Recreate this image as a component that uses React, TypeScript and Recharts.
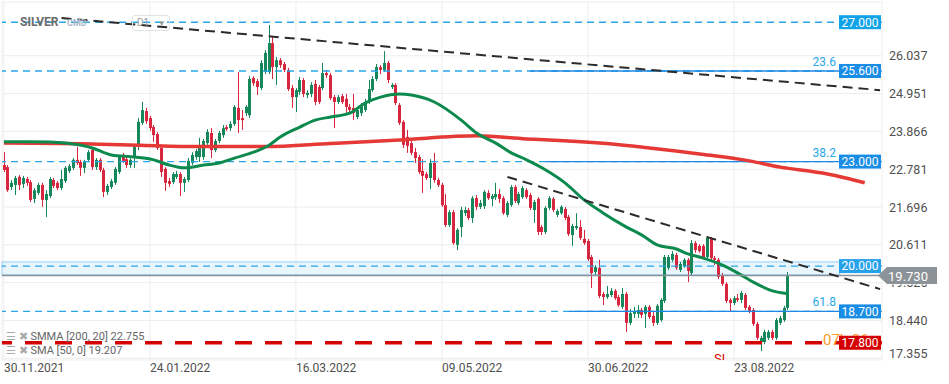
import React from 'react';
import {
  ComposedChart,
  Bar,
  Line,
  XAxis,
  YAxis,
  CartesianGrid,
  ReferenceLine,
  ReferenceArea,
} from 'recharts';

// daily candles, 30.11.2021 .. 12.09.2022
const OPEN = [
  22.90, 22.84, 22.27, 22.33, 22.56, 22.36, 22.50, 22.41, 21.93, 22.10,
  22.33, 21.90, 22.01, 22.47, 22.39, 22.24, 22.44, 22.73, 22.82, 23.05,
  22.99, 22.82, 23.05, 23.33, 22.84, 23.05, 22.76, 22.13, 22.27, 22.39,
  22.70, 23.13, 23.07, 22.90, 23.10, 23.42, 24.11, 24.45, 24.25, 23.99,
  23.79, 23.39, 22.79, 22.44, 22.41, 22.56, 22.64, 22.39, 22.47, 22.96,
  23.13, 23.13, 23.13, 23.53, 23.82, 23.33, 23.59, 23.76, 23.99, 23.96,
  24.08, 24.54, 24.25, 24.39, 24.33, 25.40, 25.31, 25.11, 25.57, 25.57,
  26.40, 25.71, 25.91, 25.80, 25.63, 25.11, 24.85, 25.00, 25.34, 24.91,
  24.94, 25.23, 25.14, 25.11, 25.54, 25.48, 24.85, 24.71, 24.88, 24.80,
  24.57, 24.54, 24.28, 24.39, 24.48, 24.71, 25.05, 25.37, 25.71, 25.63,
  25.83, 25.14, 25.20, 24.62, 24.14, 23.71, 23.53, 23.27, 23.13, 22.73,
  22.64, 22.53, 22.96, 22.47, 22.33, 21.75, 21.18, 21.55, 20.61, 21.12,
  21.52, 21.61, 21.38, 21.95, 21.70, 21.72, 22.10, 21.93, 21.98, 22.07,
  21.95, 21.47, 21.75, 22.27, 21.81, 21.98, 22.18, 22.04, 21.61, 21.93,
  21.12, 20.98, 21.67, 21.93, 21.47, 21.52, 21.64, 21.41, 20.89, 21.09,
  21.12, 20.78, 20.72, 20.26, 19.83, 19.95, 19.20, 19.11, 19.17, 19.29,
  19.11, 18.83, 19.20, 18.37, 18.63, 18.63, 18.74, 18.63, 18.83, 18.57,
  18.37, 18.45, 19.00, 19.95, 20.18, 20.32, 19.89, 20.00, 20.18, 19.80,
  20.66, 20.58, 20.58, 20.26, 20.78, 20.23, 20.18, 19.74, 19.49, 19.03,
  18.94, 19.08, 19.03, 19.17, 18.83, 18.74, 18.34, 17.82, 17.82, 17.94,
  18.11, 17.94, 18.37, 18.45, 18.80,
];
const HIGH = [
  23.27, 22.90, 22.47, 22.59, 22.61, 22.59, 22.56, 22.47, 22.24, 22.39,
  22.39, 22.18, 22.56, 22.53, 22.44, 22.76, 22.87, 22.93, 23.10, 23.42,
  23.05, 23.05, 23.33, 23.39, 23.10, 23.10, 22.82, 22.36, 22.50, 22.84,
  23.19, 23.25, 23.13, 23.10, 23.48, 24.25, 24.71, 24.54, 24.31, 24.05,
  23.85, 23.45, 22.84, 22.53, 22.70, 22.73, 22.70, 22.56, 23.10, 23.27,
  23.36, 23.68, 23.65, 23.93, 23.96, 23.65, 23.88, 24.05, 24.05, 24.16,
  24.62, 25.57, 24.48, 24.62, 25.45, 25.45, 25.37, 25.91, 26.20, 26.92,
  26.58, 26.00, 25.97, 25.86, 25.69, 25.20, 25.11, 25.43, 25.40, 25.05,
  25.28, 25.34, 25.20, 25.83, 25.63, 25.54, 24.91, 24.91, 24.94, 24.94,
  24.65, 24.94, 24.54, 24.68, 24.80, 25.34, 25.45, 25.80, 25.77, 26.17,
  25.89, 25.25, 25.25, 24.68, 24.19, 23.91, 23.59, 23.39, 23.19, 23.07,
  22.70, 23.07, 23.25, 22.53, 22.39, 22.07, 21.61, 21.61, 21.09, 21.70,
  21.70, 21.67, 22.01, 22.04, 21.90, 22.18, 22.18, 22.07, 22.39, 22.21,
  22.01, 21.87, 22.33, 22.33, 22.13, 22.30, 22.24, 22.10, 21.90, 21.98,
  21.18, 21.72, 22.01, 21.98, 21.64, 21.75, 21.70, 21.47, 21.21, 21.52,
  21.32, 21.04, 20.78, 20.32, 20.03, 20.18, 19.26, 19.43, 19.37, 19.34,
  19.17, 19.37, 19.26, 18.77, 18.83, 18.88, 18.80, 18.88, 18.88, 18.68,
  18.91, 19.08, 20.32, 20.32, 20.43, 20.38, 20.12, 20.23, 20.23, 20.75,
  20.72, 20.63, 20.63, 20.86, 20.84, 20.29, 20.23, 19.80, 19.54, 19.08,
  19.14, 19.20, 19.29, 19.23, 18.88, 18.80, 18.40, 18.00, 18.17, 18.17,
  18.17, 18.51, 18.57, 18.86, 19.83,
];
const LOW = [
  22.70, 22.13, 22.18, 22.04, 22.18, 22.24, 22.30, 21.84, 21.81, 22.04,
  21.70, 21.41, 21.95, 22.24, 22.18, 22.18, 22.39, 22.67, 22.76, 22.90,
  22.59, 22.67, 22.99, 22.76, 22.76, 22.70, 21.98, 22.04, 22.21, 22.33,
  22.64, 22.96, 22.82, 22.82, 22.82, 23.33, 24.05, 24.08, 23.88, 23.56,
  23.33, 22.56, 22.16, 22.27, 22.36, 22.50, 22.01, 22.13, 22.41, 22.90,
  23.05, 22.99, 23.05, 23.48, 23.10, 23.27, 23.53, 23.68, 23.88, 23.88,
  24.02, 23.82, 23.91, 24.31, 24.25, 25.17, 24.91, 25.05, 25.51, 25.51,
  25.37, 25.20, 25.69, 25.57, 25.02, 24.54, 24.42, 24.91, 24.85, 24.82,
  24.85, 24.62, 24.65, 25.05, 25.40, 24.77, 23.96, 24.65, 24.65, 24.39,
  24.42, 24.19, 24.22, 24.31, 24.42, 24.65, 25.00, 25.31, 25.51, 25.57,
  25.25, 25.08, 24.62, 24.05, 23.39, 23.25, 23.19, 22.96, 22.64, 22.10,
  22.47, 22.21, 22.39, 22.27, 21.70, 21.12, 21.12, 20.61, 20.46, 20.83,
  21.44, 21.32, 21.24, 21.61, 21.64, 21.64, 21.90, 21.72, 21.90, 21.81,
  21.47, 21.41, 21.70, 21.81, 21.75, 21.93, 21.93, 21.61, 21.24, 20.89,
  20.89, 20.92, 21.61, 21.55, 21.41, 21.47, 21.32, 20.86, 20.58, 21.04,
  20.75, 20.61, 20.15, 19.37, 19.74, 19.08, 18.88, 19.06, 19.11, 19.03,
  18.83, 18.77, 18.11, 18.31, 18.51, 18.51, 18.51, 18.22, 18.48, 18.28,
  18.31, 18.40, 18.94, 19.89, 20.12, 19.89, 19.83, 19.95, 19.54, 19.74,
  20.38, 20.38, 20.20, 20.20, 20.12, 20.03, 19.63, 19.43, 18.94, 18.68,
  18.88, 18.97, 18.94, 18.74, 18.65, 18.28, 17.88, 17.56, 17.76, 17.88,
  17.88, 17.88, 18.31, 18.40, 18.74,
];
const CLOSE = [
  22.76, 22.18, 22.39, 22.53, 22.33, 22.53, 22.39, 21.90, 22.18, 22.33,
  21.90, 22.07, 22.50, 22.30, 22.24, 22.50, 22.82, 22.87, 23.05, 22.96,
  22.82, 22.99, 23.27, 22.84, 23.05, 22.76, 22.13, 22.30, 22.44, 22.79,
  23.13, 23.02, 22.90, 23.05, 23.42, 24.14, 24.48, 24.16, 23.96, 23.76,
  23.39, 22.70, 22.39, 22.36, 22.64, 22.64, 22.39, 22.50, 23.02, 23.19,
  23.30, 23.39, 23.59, 23.85, 23.33, 23.59, 23.82, 23.96, 23.93, 24.08,
  24.57, 24.19, 24.19, 24.57, 25.37, 25.25, 25.14, 25.83, 26.12, 26.40,
  25.71, 25.91, 25.77, 25.63, 25.08, 24.85, 25.05, 25.34, 24.94, 24.97,
  25.20, 24.71, 24.71, 25.54, 25.48, 24.82, 24.71, 24.85, 24.71, 24.57,
  24.48, 24.39, 24.48, 24.59, 24.71, 25.08, 25.37, 25.71, 25.63, 25.83,
  25.34, 25.20, 24.68, 24.11, 23.48, 23.45, 23.25, 23.10, 22.70, 22.59,
  22.53, 22.96, 22.47, 22.33, 21.75, 21.18, 21.55, 20.66, 21.04, 21.61,
  21.61, 21.38, 21.95, 21.70, 21.81, 22.13, 21.95, 22.01, 22.07, 21.93,
  21.52, 21.81, 22.27, 21.87, 22.07, 22.24, 21.98, 21.67, 21.84, 20.98,
  20.98, 21.67, 21.95, 21.61, 21.58, 21.70, 21.38, 20.92, 21.15, 21.15,
  20.81, 20.66, 20.20, 19.80, 19.97, 19.14, 19.11, 19.20, 19.29, 19.08,
  18.88, 19.20, 18.37, 18.65, 18.71, 18.74, 18.60, 18.83, 18.54, 18.37,
  18.86, 19.03, 20.26, 20.26, 20.35, 19.95, 20.06, 20.18, 19.86, 20.66,
  20.46, 20.43, 20.26, 20.81, 20.23, 20.18, 19.69, 19.49, 19.00, 18.94,
  19.08, 19.03, 19.23, 18.80, 18.71, 18.34, 17.94, 17.94, 18.11, 18.11,
  17.94, 18.45, 18.51, 18.80, 19.73,
];

// SMA(50) and SMMA(200, shift 20) read at a few bars
const SMA_IDX = [0, 6, 12, 16, 23, 28, 34, 39, 43, 47, 52, 56, 60, 65, 69, 72, 77, 81, 85, 90, 94, 98, 103, 106, 112, 119, 123, 128, 132, 136, 141, 146, 151, 156, 162, 166, 170, 175, 178, 182, 187, 191, 195, 200, 204];
const SMA_VAL = [23.57, 23.57, 23.56, 23.53, 23.39, 23.19, 23.13, 23.05, 22.90, 22.82, 22.90, 22.96, 23.10, 23.27, 23.47, 23.71, 23.99, 24.19, 24.28, 24.39, 24.68, 24.85, 24.94, 24.91, 24.71, 24.19, 23.82, 23.53, 23.25, 23.05, 22.76, 22.39, 21.90, 21.52, 21.12, 20.89, 20.61, 20.49, 20.35, 20.23, 20.03, 19.80, 19.54, 19.29, 19.21];
const SMMA_IDX = [0, 25, 35, 51, 68, 85, 103, 123, 136, 142, 155, 168, 181, 194, 202, 213, 219, 224];
const SMMA_VAL = [23.53, 23.50, 23.47, 23.43, 23.43, 23.52, 23.62, 23.74, 23.65, 23.62, 23.53, 23.39, 23.22, 23.02, 22.84, 22.67, 22.53, 22.39];

const DATE_TICKS = [0, 38, 76, 114, 152, 190];
const DATE_LABELS = ['30.11.2021', '24.01.2022', '16.03.2022', '09.05.2022', '30.06.2022', '23.08.2022'];
const PRICE_TICKS = [17.355, 18.44, 19.526, 20.611, 21.696, 22.781, 23.866, 24.951, 26.037];

const LEVELS = [27, 25.6, 23, 20, 18.7];
const FIB_LEVELS = [25.6, 23, 18.7];
const FIB_NAMES = ['23.6', '38.2', '61.8'];
const FIB_START = [137, 141, 147];
const STOP = 17.8;
const ZONE = [19.75, 20.12];
const LAST = 19.73;
const TREND_A = [[15, 27.12], [228, 25.05]];
const TREND_B = [[131, 22.56], [228, 19.34]];

const SLOTS = 229;
const UP = '#15875a';
const DOWN = '#d7263d';
const LEVEL_BLUE = '#29a6e6';
const FONT = 'Roboto, sans-serif';

const data = Array.from({ length: SLOTS }, (_, i) => {
  const row: any = { i, sma: null, smma: null, range: null };
  if (i < CLOSE.length) {
    row.o = OPEN[i];
    row.h = HIGH[i];
    row.l = LOW[i];
    row.c = CLOSE[i];
    row.range = [LOW[i], HIGH[i]];
  }
  return row;
});
SMA_IDX.forEach((idx, k) => {
  data[idx].sma = SMA_VAL[k];
});
SMMA_IDX.forEach((idx, k) => {
  data[idx].smma = SMMA_VAL[k];
});

function Candle(props: any) {
  const { x, y, width, height, payload } = props;
  if (!payload || payload.o == null) return null;
  const top = Math.min(y, y + height);
  const bot = Math.max(y, y + height);
  const span = payload.h - payload.l || 1;
  const py = (v: number) => top + ((payload.h - v) / span) * (bot - top);
  const color = payload.c >= payload.o ? UP : DOWN;
  const cx = Math.round(x + width / 2) + 0.5;
  const b1 = py(Math.max(payload.o, payload.c));
  const b2 = py(Math.min(payload.o, payload.c));
  return (
    <g>
      <line x1={cx} x2={cx} y1={top} y2={bot} stroke={color} strokeWidth={1} />
      <rect x={cx - 1.5} y={b1} width={3} height={Math.max(1, b2 - b1)} fill={color} />
    </g>
  );
}

function DateTick(props: any) {
  const { x, payload } = props;
  const k = DATE_TICKS.indexOf(payload.value);
  return (
    <text x={x} y={372} textAnchor="start" fontSize={12} fill="#4f4f4f" fontFamily={FONT}>
      {DATE_LABELS[k]}
    </text>
  );
}

function PriceTick(props: any) {
  const { y, payload } = props;
  const shift = payload.value < 17.4 ? -5 : 0;
  const label = (
    <text x={889} y={y + 4.5 + shift} textAnchor="start" fontSize={12.5} fill="#4f4f4f" fontFamily={FONT}>
      {payload.value.toFixed(3)}
    </text>
  );
  // the tick under the last-price tag only peeks out below it
  if (Math.abs(payload.value - LAST) < 0.5) {
    return (
      <g>
        <defs>
          <clipPath id="underTag">
            <rect x={880} y={y + 2} width={69} height={10} />
          </clipPath>
        </defs>
        <g clipPath="url(#underTag)">{label}</g>
      </g>
    );
  }
  return label;
}

const levelTag = (value: number, fill: string, fib?: string, timer?: boolean) => (props: any) => {
  const vb = props.viewBox;
  const right = vb.x + vb.width;
  const y = vb.y;
  return (
    <g>
      {fib && (
        <text x={right - 46} y={y - 5} textAnchor="end" fontSize={12} fill={LEVEL_BLUE} fontFamily={FONT}>
          {fib}
        </text>
      )}
      {timer && (
        <text x={right - 59} y={y + 2} textAnchor="start" fontSize={15} fill="#ff9a1f" fontFamily={FONT}>
          07h 06m
        </text>
      )}
      <rect x={right - 43} y={y - 7} width={42} height={14} fill={fill} />
      <text x={right - 22} y={y + 4.3} textAnchor="middle" fontSize={12} fill="#fff" fontFamily={FONT}>
        {value.toFixed(3)}
      </text>
    </g>
  );
};

const lastTag = (props: any) => {
  const vb = props.viewBox;
  const x0 = vb.x + vb.width - 4;
  const y = vb.y;
  return (
    <g>
      <polygon
        points={`${x0},${y} ${x0 + 9},${y - 8.5} ${x0 + 59},${y - 8.5} ${x0 + 59},${y + 8.5} ${x0 + 9},${y + 8.5}`}
        fill="#8c9398"
      />
      <text x={x0 + 30} y={y + 5} textAnchor="middle" fontSize={13} fill="#fff" fontFamily={FONT}>
        {LAST.toFixed(3)}
      </text>
    </g>
  );
};

const tagColor = (v: number) => (v === 27 ? '#10a3e8' : v === 20 ? '#27a2ea' : '#1a8de6');

export default function App() {
  return (
    <div style={{ position: 'fixed', left: 0, top: 0, width: 949, height: 384, background: '#fff', fontFamily: FONT }}>
      <ComposedChart width={949} height={384} data={data} margin={{ top: 2, right: 0, bottom: 0, left: 2 }}>
        <CartesianGrid stroke="#ededed" />
        <XAxis
          dataKey="i"
          type="category"
          ticks={DATE_TICKS}
          interval={0}
          tick={DateTick}
          tickLine={false}
          axisLine={false}
          height={24}
        />
        <YAxis
          orientation="right"
          type="number"
          domain={[17.305, 27.58]}
          allowDataOverflow
          ticks={PRICE_TICKS}
          tick={PriceTick}
          tickLine={false}
          axisLine={false}
          width={67}
        />
        <ReferenceArea
          x1={0}
          x2={217}
          y1={ZONE[0]}
          y2={ZONE[1]}
          fill="#dcf0fc"
          fillOpacity={0.6}
          stroke="#93d0f4"
          strokeWidth={1}
          ifOverflow="visible"
        />
        {LEVELS.map((v) => (
          <ReferenceLine
            key={v}
            y={v}
            stroke={LEVEL_BLUE}
            strokeWidth={1.4}
            strokeDasharray="7 5"
            label={levelTag(v, tagColor(v), FIB_NAMES[FIB_LEVELS.indexOf(v)])}
          />
        ))}
        {FIB_LEVELS.map((v, k) => (
          <ReferenceLine
            key={'fib' + v}
            segment={[{ x: FIB_START[k], y: v }, { x: 218, y: v }]}
            stroke="#1e88e5"
            strokeWidth={1.4}
          />
        ))}
        <ReferenceLine
          y={STOP}
          stroke="#d50000"
          strokeWidth={3.5}
          strokeDasharray="17 13"
          label={levelTag(STOP, '#d50000', undefined, true)}
        />
        <Bar dataKey="range" barSize={3} shape={Candle} isAnimationActive={false} />
        <Line
          dataKey="smma"
          type="monotone"
          stroke="#e53935"
          strokeWidth={3.5}
          dot={false}
          connectNulls
          isAnimationActive={false}
        />
        <Line
          dataKey="sma"
          type="monotone"
          stroke="#0c8a4e"
          strokeWidth={3}
          dot={false}
          connectNulls
          isAnimationActive={false}
        />
        <ReferenceLine y={LAST} stroke="#8c9398" strokeWidth={1.4} label={lastTag} />
        <ReferenceLine
          segment={[{ x: TREND_A[0][0], y: TREND_A[0][1] }, { x: TREND_A[1][0], y: TREND_A[1][1] }]}
          stroke="#2b2b2b"
          strokeWidth={2}
          strokeDasharray="10 6"
        />
        <ReferenceLine
          segment={[{ x: TREND_B[0][0], y: TREND_B[0][1] }, { x: TREND_B[1][0], y: TREND_B[1][1] }]}
          stroke="#2b2b2b"
          strokeWidth={2}
          strokeDasharray="10 6"
        />
      </ComposedChart>

      {/* instrument header */}
      <div style={{ position: 'absolute', left: 20, top: 15, fontSize: 12, fontWeight: 700, color: '#6b6b6b' }}>
        SILVER
      </div>
      <div style={{ position: 'absolute', left: 67, top: 18, fontSize: 9, fontWeight: 700, color: '#a9b8c8' }}>
        CMD
      </div>
      <div
        style={{
          position: 'absolute',
          left: 132,
          top: 15,
          width: 32,
          height: 14,
          border: '1px solid #e2e2e2',
          borderRadius: 3,
          fontSize: 10,
          color: '#9a9a9a',
          lineHeight: '14px',
          paddingLeft: 4,
          boxSizing: 'content-box',
        }}
      >
        D1 <span style={{ marginLeft: 6, fontSize: 8 }}>▼</span>
      </div>

      {/* indicator legend */}
      <div style={{ position: 'absolute', left: 6, top: 330, fontSize: 11, color: '#666', lineHeight: '14px' }}>
        <div>
          <span style={{ color: '#aaa', fontSize: 11 }}>☰ ✖</span> SMMA [200, 20] 22.755
        </div>
        <div>
          <span style={{ color: '#aaa', fontSize: 11 }}>☰ ✖</span> SMA [50, 0] 19.207
        </div>
      </div>

      {/* stop-loss marker, cut by the plot edge */}
      <div style={{ position: 'absolute', left: 714, top: 351, height: 9, overflow: 'hidden' }}>
        <div style={{ fontSize: 13, color: '#d50000', lineHeight: '13px', paddingTop: 1 }}>SL</div>
      </div>
    </div>
  );
}
